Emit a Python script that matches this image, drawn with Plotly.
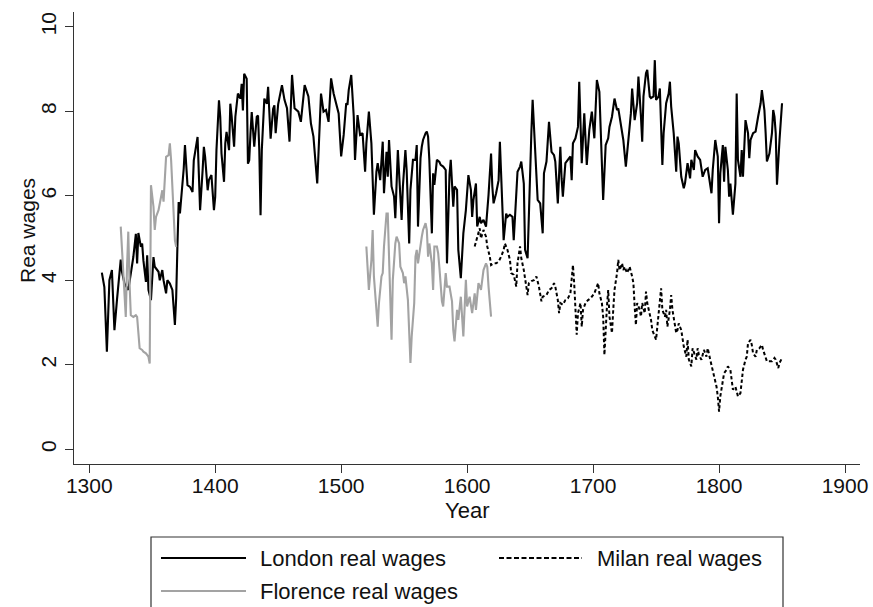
import plotly.graph_objects as go

# ---------------- data ----------------
london_years = [1310, 1312, 1314, 1316, 1318, 1320, 1322, 1325, 1326, 1328, 1331, 1333, 1335, 1337, 1338,
                1339, 1341, 1342, 1343, 1345, 1346, 1347, 1349, 1351, 1352, 1355, 1356, 1358, 1359, 1361,
                1362, 1364, 1366, 1368, 1369, 1370, 1371, 1372, 1373, 1375, 1376, 1377, 1378, 1380, 1382,
                1383, 1386, 1387, 1388, 1390, 1391, 1392, 1394, 1395, 1397, 1399, 1400, 1401, 1402, 1403,
                1404, 1405, 1407, 1408, 1409, 1411, 1412, 1413, 1415, 1416, 1418, 1420, 1421, 1422, 1423,
                1425, 1426, 1427, 1428, 1429, 1431, 1433, 1434, 1435, 1436, 1437, 1439, 1441, 1442, 1444,
                1446, 1447, 1448, 1450, 1453, 1455, 1457, 1459, 1461, 1463, 1466, 1468, 1471, 1474, 1476,
                1478, 1481, 1482, 1484, 1486, 1488, 1490, 1492, 1494, 1496, 1498, 1500, 1502, 1504, 1505,
                1506, 1508, 1510, 1511, 1513, 1515, 1517, 1519, 1520, 1522, 1524, 1525, 1526, 1528, 1529,
                1531, 1533, 1534, 1536, 1537, 1538, 1540, 1542, 1543, 1545, 1547, 1548, 1549, 1551, 1552,
                1554, 1555, 1557, 1559, 1560, 1561, 1563, 1564, 1565, 1567, 1568, 1569, 1570, 1572, 1573,
                1574, 1576, 1578, 1579, 1581, 1583, 1584, 1586, 1587, 1589, 1590, 1592, 1593, 1595, 1597,
                1599, 1601, 1603, 1604, 1605, 1607, 1608, 1610, 1611, 1613, 1615, 1617, 1619, 1620, 1621,
                1623, 1625, 1626, 1627, 1629, 1631, 1632, 1634, 1636, 1637, 1639, 1640, 1642, 1643, 1645,
                1646, 1648, 1649, 1651, 1652, 1654, 1656, 1658, 1660, 1661, 1663, 1665, 1667, 1669, 1670,
                1672, 1674, 1675, 1676, 1678, 1680, 1682, 1683, 1684, 1686, 1688, 1689, 1690, 1691, 1693,
                1694, 1695, 1697, 1699, 1701, 1703, 1705, 1706, 1708, 1710, 1712, 1713, 1715, 1717, 1719,
                1720, 1722, 1724, 1726, 1728, 1730, 1731, 1733, 1735, 1736, 1738, 1739, 1740, 1742, 1743,
                1745, 1746, 1748, 1749, 1750, 1752, 1753, 1755, 1756, 1758, 1760, 1761, 1762, 1764, 1766,
                1767, 1768, 1770, 1772, 1773, 1775, 1777, 1778, 1780, 1781, 1783, 1785, 1787, 1789, 1791,
                1792, 1794, 1795, 1797, 1799, 1800, 1801, 1803, 1804, 1805, 1807, 1808, 1809, 1810, 1811,
                1813, 1814, 1815, 1817, 1818, 1819, 1821, 1823, 1824, 1825, 1827, 1829, 1831, 1833, 1834,
                1836, 1837, 1838, 1840, 1842, 1843, 1844, 1845, 1846, 1848, 1850]
london_wages = [4.18, 3.84, 2.31, 4.00, 4.24, 2.82, 3.53, 4.49, 4.20, 3.92, 3.77, 4.18, 4.55, 5.10, 4.40,
                5.12, 4.79, 4.87, 4.47, 3.96, 4.59, 3.77, 3.53, 4.55, 4.32, 4.20, 4.00, 4.24, 4.00, 3.69,
                4.00, 3.92, 3.77, 2.94, 3.57, 4.79, 5.85, 5.58, 5.90, 6.64, 7.20, 6.68, 6.25, 6.21, 6.09,
                6.84, 7.39, 6.53, 5.66, 6.60, 7.16, 6.92, 6.13, 6.37, 6.49, 5.66, 5.97, 7.08, 7.90, 8.26,
                7.87, 7.00, 6.33, 7.24, 7.51, 7.08, 8.18, 7.90, 7.16, 7.87, 8.42, 8.30, 8.65, 8.02, 8.89,
                8.77, 6.76, 6.84, 7.47, 7.98, 7.16, 7.87, 7.90, 7.08, 5.54, 7.08, 8.30, 8.18, 8.58, 7.35,
                8.06, 8.14, 7.48, 8.17, 8.62, 8.27, 8.07, 7.28, 8.86, 8.07, 7.99, 7.75, 8.62, 8.35, 7.71,
                7.40, 6.29, 7.16, 8.42, 7.99, 8.03, 7.75, 8.78, 8.42, 8.15, 7.95, 6.93, 7.44, 8.19, 8.15,
                8.50, 8.86, 7.87, 6.85, 7.91, 7.44, 7.48, 6.57, 7.24, 7.99, 7.24, 6.53, 5.55, 6.57, 6.77,
                6.37, 7.28, 6.06, 7.04, 6.45, 7.32, 6.22, 5.98, 5.47, 7.08, 5.98, 5.43, 6.22, 7.08, 6.61,
                4.87, 6.14, 6.85, 6.85, 7.20, 5.27, 6.89, 7.16, 7.32, 7.48, 7.52, 7.40, 6.85, 5.11, 6.53,
                6.26, 6.85, 6.80, 6.73, 6.69, 6.61, 4.40, 6.50, 6.85, 5.74, 6.22, 6.14, 4.72, 4.05, 5.11,
                5.66, 6.49, 6.14, 5.50, 5.90, 6.29, 5.27, 5.50, 5.35, 5.43, 5.27, 6.02, 7.00, 6.22, 5.82,
                6.06, 6.37, 7.28, 6.37, 4.95, 5.58, 5.50, 5.55, 5.50, 4.95, 5.90, 6.57, 6.69, 6.81, 6.29,
                4.72, 4.52, 5.74, 7.50, 8.27, 7.00, 5.90, 5.82, 5.11, 6.53, 6.81, 7.75, 7.04, 6.96, 6.81,
                5.82, 7.16, 6.41, 5.98, 6.77, 6.85, 6.93, 6.37, 7.24, 7.36, 7.63, 8.70, 7.36, 6.77, 7.95,
                7.24, 6.73, 7.56, 7.99, 7.36, 8.74, 8.46, 7.48, 5.90, 7.20, 7.36, 7.63, 7.87, 8.30, 8.03,
                8.07, 7.63, 7.32, 6.69, 7.36, 7.95, 8.54, 7.79, 8.19, 8.82, 7.87, 7.28, 8.35, 8.90, 8.98,
                8.35, 8.31, 8.35, 9.21, 8.27, 8.35, 8.54, 6.73, 7.48, 8.19, 8.42, 8.70, 8.11, 7.48, 6.57,
                7.40, 7.24, 6.45, 6.18, 6.30, 6.77, 6.41, 6.85, 6.61, 7.08, 6.93, 6.85, 6.45, 6.61, 6.65,
                6.45, 6.06, 6.61, 7.32, 6.93, 5.35, 6.53, 7.20, 6.33, 7.16, 6.61, 5.98, 6.29, 5.98, 5.55,
                6.29, 8.42, 6.85, 6.45, 7.08, 6.45, 7.79, 7.48, 6.89, 7.32, 7.48, 7.52, 7.87, 8.19, 8.50,
                8.03, 7.48, 6.81, 7.00, 7.48, 8.03, 7.87, 7.48, 6.26, 7.32, 8.19]

florence_years_a = [1325, 1326, 1328, 1329, 1330, 1331, 1332, 1333, 1335, 1337, 1338, 1340, 1342, 1343, 1345,
                    1347, 1348, 1349, 1351, 1352, 1353, 1355, 1357, 1358, 1359, 1360, 1361, 1363, 1364, 1365,
                    1367, 1368, 1369]
florence_wages_a = [5.27, 4.71, 3.77, 3.13, 4.32, 5.15, 3.92, 3.17, 3.13, 3.17, 3.13, 2.39, 2.35, 2.31, 2.27,
                    2.19, 2.03, 6.25, 5.74, 5.19, 5.50, 5.66, 5.97, 6.13, 5.86, 6.45, 6.92, 6.96, 7.24, 6.84,
                    5.74, 4.95, 4.79]
florence_years_b = [1520, 1521, 1522, 1524, 1525, 1526, 1528, 1529, 1530, 1532, 1533, 1534, 1536, 1537, 1538,
                    1539, 1540, 1541, 1543, 1544, 1546, 1547, 1549, 1550, 1551, 1553, 1554, 1555, 1556, 1558,
                    1559, 1560, 1561, 1563, 1564, 1565, 1567, 1568, 1569, 1570, 1572, 1573, 1574, 1576, 1577,
                    1578, 1579, 1580, 1581, 1583, 1584, 1586, 1588, 1589, 1590, 1592, 1593, 1595, 1597, 1599,
                    1600, 1602, 1604, 1606, 1607, 1609, 1611, 1613, 1615, 1616, 1617, 1619]
florence_wages_b = [4.80, 4.32, 3.77, 4.48, 5.19, 4.09, 3.30, 2.90, 3.46, 4.09, 4.17, 4.80, 5.58, 5.58, 4.56,
                    3.38, 2.59, 4.01, 4.87, 5.03, 4.87, 4.32, 4.17, 3.93, 4.09, 3.53, 2.74, 2.04, 2.67, 3.46,
                    4.56, 4.72, 4.40, 4.87, 5.03, 5.19, 5.35, 5.19, 4.56, 4.87, 4.40, 3.77, 4.80, 4.80, 4.64,
                    4.30, 3.90, 3.50, 3.38, 4.17, 3.85, 3.85, 3.50, 2.82, 2.55, 3.30, 3.06, 3.61, 2.67, 4.01,
                    3.38, 3.61, 3.22, 3.69, 3.30, 3.93, 3.77, 4.24, 4.40, 4.32, 3.85, 3.14]

milan_years = [1606, 1608, 1610, 1611, 1613, 1615, 1616, 1618, 1619, 1621, 1623, 1625, 1627, 1629, 1630,
               1632, 1634, 1635, 1637, 1639, 1640, 1642, 1643, 1645, 1647, 1648, 1649, 1651, 1653, 1655,
               1657, 1659, 1660, 1663, 1665, 1667, 1669, 1670, 1672, 1673, 1674, 1676, 1678, 1680, 1682,
               1684, 1685, 1686, 1687, 1688, 1690, 1691, 1692, 1694, 1696, 1698, 1701, 1702, 1704, 1705,
               1707, 1708, 1709, 1711, 1712, 1713, 1715, 1716, 1717, 1719, 1720, 1721, 1723, 1724, 1725,
               1727, 1728, 1729, 1731, 1732, 1733, 1734, 1735, 1737, 1738, 1739, 1741, 1742, 1743, 1745,
               1746, 1747, 1749, 1750, 1751, 1753, 1754, 1755, 1757, 1758, 1759, 1761, 1762, 1763, 1765,
               1766, 1767, 1768, 1770, 1771, 1772, 1774, 1775, 1776, 1778, 1779, 1780, 1782, 1783, 1784,
               1786, 1787, 1788, 1790, 1791, 1793, 1795, 1796, 1798, 1799, 1800, 1801, 1803, 1804, 1806,
               1807, 1809, 1810, 1811, 1813, 1814, 1815, 1817, 1818, 1819, 1821, 1822, 1823, 1825, 1826,
               1827, 1829, 1830, 1832, 1834, 1835, 1837, 1838, 1840, 1842, 1844, 1845, 1847, 1848, 1850]
milan_wages = [4.80, 5.03, 5.23, 4.99, 5.19, 5.03, 4.80, 4.56, 4.36, 4.40, 4.40, 4.44, 4.56, 4.72, 4.87,
               4.72, 4.48, 4.17, 4.13, 3.85, 4.40, 4.80, 4.52, 4.24, 3.85, 3.65, 3.93, 3.98, 4.00, 4.09,
               3.85, 3.50, 3.61, 3.65, 3.77, 3.81, 3.93, 3.85, 3.53, 3.22, 3.46, 3.42, 3.53, 3.57, 3.69,
               4.36, 3.93, 3.30, 2.71, 3.22, 3.46, 2.90, 3.30, 3.46, 3.53, 3.57, 3.69, 3.77, 3.93, 3.69,
               3.46, 3.14, 2.23, 3.38, 3.77, 3.14, 2.75, 3.30, 3.77, 4.17, 4.48, 4.24, 4.40, 4.24, 4.32,
               4.17, 4.24, 4.32, 4.09, 3.93, 3.38, 2.94, 3.46, 3.30, 3.14, 3.46, 3.22, 3.73, 3.46, 3.22,
               3.06, 2.82, 2.67, 2.59, 2.90, 3.46, 3.81, 3.30, 3.14, 3.30, 2.90, 3.30, 3.65, 3.30, 2.90,
               2.75, 2.82, 2.98, 2.82, 2.59, 2.43, 2.19, 2.59, 2.12, 1.96, 2.39, 2.31, 2.12, 2.39, 2.23,
               2.12, 2.27, 2.35, 2.19, 2.39, 2.12, 1.88, 1.72, 1.48, 1.25, 0.89, 1.25, 1.64, 1.80, 1.88,
               1.96, 1.88, 1.56, 1.41, 1.48, 1.33, 1.25, 1.33, 1.64, 1.88, 2.12, 2.19, 2.51, 2.59, 2.47,
               2.27, 2.19, 2.35, 2.39, 2.47, 2.35, 2.19, 2.08, 2.08, 2.08, 2.16, 2.12, 1.92, 2.04, 2.16]

x_ticks = [1300, 1400, 1500, 1600, 1700, 1800, 1900]
y_ticks = [0, 2, 4, 6, 8, 10]
x_title = "Year"
y_title = "Rea wages"
legend_labels = ["London real wages", "Florence real wages", "Milan real wages"]

# ---------------- styling ----------------
W, H = 873, 607
L, R, T, B = 74, 13, 12, 143
PW, PH = W - L - R, H - T - B
FONT = "Liberation Sans, Arial, sans-serif"
AX = "#333333"
BLACK = "#000000"
GREY = "#a3a3a3"
TXT = "#111111"


def px(x):
    return (x - L) / PW


def py(y):
    return (H - B - y) / PH


fig = go.Figure()
fig.add_trace(go.Scatter(x=london_years, y=london_wages, mode="lines",
                         line=dict(color=BLACK, width=2.1), name=legend_labels[0]))
fig.add_trace(go.Scatter(x=florence_years_a, y=florence_wages_a, mode="lines",
                         line=dict(color=GREY, width=2.1), name=legend_labels[1]))
fig.add_trace(go.Scatter(x=florence_years_b, y=florence_wages_b, mode="lines",
                         line=dict(color=GREY, width=2.1), name=legend_labels[1]))
fig.add_trace(go.Scatter(x=milan_years, y=milan_wages, mode="lines",
                         line=dict(color=BLACK, width=2, dash="3.5px,2.5px"), name=legend_labels[2]))

# manual legend (Stata style box below the plot)
shapes = [
    dict(type="rect", xref="paper", yref="paper", x0=px(151), x1=px(783), y0=py(615), y1=py(537),
         line=dict(color=AX, width=1.2), fillcolor="rgba(0,0,0,0)"),
    dict(type="line", xref="paper", yref="paper", x0=px(161), x1=px(246), y0=py(558), y1=py(558),
         line=dict(color=BLACK, width=2)),
    dict(type="line", xref="paper", yref="paper", x0=px(161), x1=px(246), y0=py(591), y1=py(591),
         line=dict(color=GREY, width=2)),
    dict(type="line", xref="paper", yref="paper", x0=px(499), x1=px(582), y0=py(558), y1=py(558),
         line=dict(color=BLACK, width=2, dash="5px,2.5px")),
]
annotations = [
    dict(text=legend_labels[0], xref="paper", yref="paper", x=px(258), y=py(558),
         xanchor="left", yanchor="middle", showarrow=False, font=dict(size=22, color=TXT)),
    dict(text=legend_labels[1], xref="paper", yref="paper", x=px(258), y=py(591),
         xanchor="left", yanchor="middle", showarrow=False, font=dict(size=22, color=TXT)),
    dict(text=legend_labels[2], xref="paper", yref="paper", x=px(595), y=py(558),
         xanchor="left", yanchor="middle", showarrow=False, font=dict(size=22, color=TXT)),
    dict(text=x_title, xref="paper", yref="paper", x=px(467), y=py(510),
         xanchor="center", yanchor="middle", showarrow=False, font=dict(size=22, color=TXT)),
    dict(text=y_title, xref="paper", yref="paper", x=px(27), y=py(231), textangle=-90,
         xanchor="center", yanchor="middle", showarrow=False, font=dict(size=21, color=TXT)),
]

fig.update_layout(
    width=W, height=H,
    margin=dict(l=L, r=R, t=T, b=B, autoexpand=False),
    paper_bgcolor="white", plot_bgcolor="white",
    font=dict(family=FONT, size=21, color=TXT),
    showlegend=False,
    shapes=shapes, annotations=annotations,
    xaxis=dict(range=[1287.9, 1911.9], tickvals=x_ticks, ticks="outside", ticklen=8,
               tickwidth=1.2, tickcolor=AX, showline=True, linecolor=AX, linewidth=1.3,
               showgrid=False, zeroline=False, ticklabelstandoff=-5),
    yaxis=dict(range=[-0.35, 10.35], tickvals=y_ticks, ticks="outside", ticklen=8,
               tickwidth=1.2, tickcolor=AX, showline=True, linecolor=AX, linewidth=1.3,
               showgrid=False, zeroline=False, tickangle=-90),
)

fig.write_html("out.html")
